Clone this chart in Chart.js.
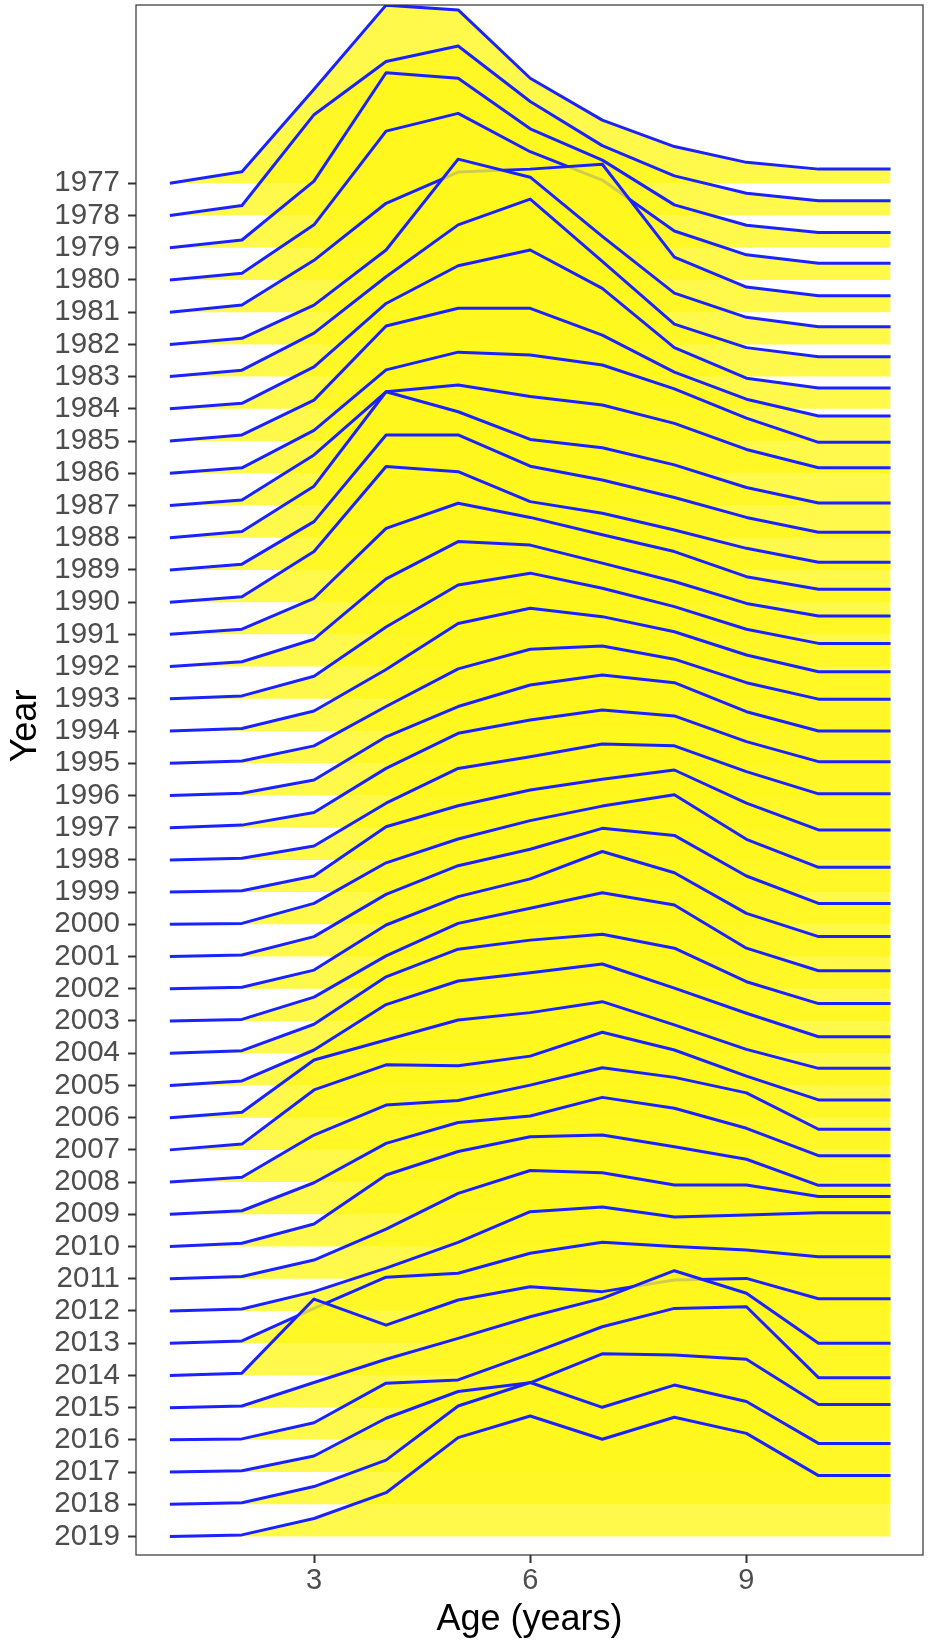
<!DOCTYPE html>
<html>
<head>
<meta charset="utf-8">
<script src="https://cdn.jsdelivr.net/npm/chart.js@4.4.1/dist/chart.umd.min.js"></script>
<style>
  html, body { margin: 0; padding: 0; background: #ffffff; }
  #wrap { width: 931px; height: 1650px; position: relative; }
</style>
</head>
<body>
<div id="wrap"><canvas id="chart"></canvas></div>
<script>
var AGES = [1, 2, 3, 4, 5, 6, 7, 8, 9, 10, 11];
var X_TICKS = [3, 6, 9];
var YEARS = [];
for (var yr = 1977; yr <= 2019; yr++) YEARS.push(yr);

// ridge heights by age, one array per year (1 = one row of the y axis)
var h1977 = [0, 0.36, 2.92, 5.53, 5.38, 3.26, 1.96, 1.14, 0.65, 0.44, 0.44];
var h1978 = [0, 0.31, 3.13, 4.78, 5.26, 3.54, 2.17, 1.23, 0.69, 0.46, 0.46];
var h1979 = [0, 0.24, 2.07, 5.43, 5.26, 3.69, 2.72, 1.33, 0.70, 0.47, 0.47];
var h1980 = [0, 0.21, 1.71, 4.62, 5.17, 3.98, 3.10, 1.52, 0.78, 0.52, 0.52];
var h1981 = [0, 0.22, 1.61, 3.38, 4.35, 4.44, 4.59, 1.71, 0.78, 0.51, 0.51];
var h1982 = [0, 0.19, 1.22, 2.93, 5.75, 5.19, 3.35, 1.59, 0.84, 0.55, 0.55];
var h1983 = [0, 0.20, 1.35, 3.10, 4.71, 5.51, 3.58, 1.63, 0.90, 0.62, 0.62];
var h1984 = [0, 0.17, 1.30, 3.27, 4.44, 4.93, 3.74, 1.90, 0.95, 0.65, 0.65];
var h1985 = [0, 0.19, 1.27, 3.57, 4.12, 4.12, 3.29, 2.14, 1.30, 0.78, 0.78];
var h1986 = [0, 0.17, 1.33, 3.21, 3.76, 3.67, 3.36, 2.62, 1.71, 0.96, 0.96];
var h1987 = [0, 0.17, 1.57, 3.53, 3.74, 3.38, 3.12, 2.55, 1.74, 1.17, 1.17];
var h1988 = [0, 0.19, 1.60, 4.53, 3.91, 3.05, 2.79, 2.26, 1.56, 1.08, 1.08];
var h1989 = [0, 0.18, 1.50, 4.19, 4.19, 3.22, 2.79, 2.25, 1.63, 1.17, 1.17];
var h1990 = [0, 0.17, 1.57, 4.21, 4.05, 3.12, 2.76, 2.24, 1.67, 1.24, 1.24];
var h1991 = [0, 0.16, 1.12, 3.29, 4.07, 3.63, 3.09, 2.57, 1.79, 1.40, 1.40];
var h1992 = [0, 0.15, 0.85, 2.72, 3.88, 3.77, 3.21, 2.64, 1.96, 1.57, 1.57];
var h1993 = [0, 0.09, 0.70, 2.23, 3.53, 3.90, 3.43, 2.86, 2.16, 1.72, 1.72];
var h1994 = [0, 0.08, 0.62, 1.91, 3.34, 3.81, 3.55, 3.08, 2.36, 1.84, 1.84];
var h1995 = [0, 0.07, 0.54, 1.76, 2.93, 3.54, 3.64, 3.23, 2.50, 1.99, 1.99];
var h1996 = [0, 0.07, 0.48, 1.82, 2.76, 3.43, 3.74, 3.50, 2.60, 2.00, 2.00];
var h1997 = [0, 0.08, 0.47, 1.84, 2.93, 3.34, 3.65, 3.47, 2.67, 2.05, 2.05];
var h1998 = [0, 0.05, 0.43, 1.76, 2.84, 3.20, 3.60, 3.54, 2.74, 2.05, 2.05];
var h1999 = [0, 0.04, 0.50, 2.03, 2.68, 3.17, 3.50, 3.79, 2.76, 1.93, 1.93];
var h2000 = [0, 0.03, 0.65, 1.91, 2.65, 3.22, 3.67, 4.02, 2.64, 1.77, 1.77];
var h2001 = [0, 0.05, 0.62, 1.93, 2.82, 3.33, 3.98, 3.76, 2.50, 1.65, 1.65];
var h2002 = [0, 0.05, 0.58, 1.98, 2.86, 3.41, 4.26, 3.60, 2.34, 1.62, 1.62];
var h2003 = [0, 0.05, 0.74, 2.02, 3.03, 3.50, 3.98, 3.60, 2.26, 1.56, 1.56];
var h2004 = [0, 0.08, 0.90, 2.37, 3.23, 3.51, 3.69, 3.26, 2.22, 1.54, 1.54];
var h2005 = [0, 0.14, 1.10, 2.51, 3.24, 3.50, 3.77, 3.02, 2.24, 1.51, 1.51];
var h2006 = [0, 0.17, 1.79, 2.41, 3.03, 3.26, 3.60, 2.88, 2.12, 1.53, 1.53];
var h2007 = [0, 0.18, 1.86, 2.64, 2.61, 2.91, 3.65, 3.10, 2.29, 1.55, 1.55];
var h2008 = [0, 0.15, 1.46, 2.39, 2.53, 3.01, 3.55, 3.25, 2.77, 1.64, 1.64];
var h2009 = [0, 0.11, 0.98, 2.20, 2.85, 3.05, 3.63, 3.29, 2.67, 1.82, 1.82];
var h2010 = [0, 0.10, 0.70, 2.22, 2.95, 3.41, 3.46, 3.10, 2.71, 1.90, 1.90];
var h2011 = [0, 0.07, 0.58, 1.54, 2.65, 3.36, 3.29, 2.91, 2.91, 2.55, 2.55];
var h2012 = [0, 0.06, 0.60, 1.33, 2.13, 3.08, 3.23, 2.92, 2.98, 3.05, 3.05];
var h2013 = [0, 0.07, 1.08, 2.05, 2.17, 2.79, 3.13, 3.00, 2.89, 2.68, 2.68];
var h2014 = [0, 0.07, 2.37, 1.56, 2.34, 2.75, 2.60, 2.96, 3.01, 2.38, 2.38];
var h2015 = [0, 0.05, 0.78, 1.50, 2.15, 2.82, 3.39, 4.25, 3.55, 2.00, 2.00];
var h2016 = [0, 0.03, 0.53, 1.76, 1.86, 2.67, 3.51, 4.08, 4.13, 1.93, 1.93];
var h2017 = [0, 0.04, 0.50, 1.67, 2.50, 2.77, 3.67, 3.63, 3.50, 2.10, 2.10];
var h2018 = [0, 0.05, 0.55, 1.37, 3.05, 3.78, 3.01, 3.70, 3.19, 1.89, 1.89];
var h2019 = [0, 0.05, 0.56, 1.36, 3.07, 3.74, 3.02, 3.70, 3.20, 1.89, 1.89];

var HEIGHTS = [h1977, h1978, h1979, h1980, h1981, h1982, h1983, h1984, h1985,
  h1986, h1987, h1988, h1989, h1990, h1991, h1992, h1993, h1994, h1995, h1996,
  h1997, h1998, h1999, h2000, h2001, h2002, h2003, h2004, h2005, h2006, h2007,
  h2008, h2009, h2010, h2011, h2012, h2013, h2014, h2015, h2016, h2017, h2018,
  h2019];

var FONT = '"Liberation Sans", Arial, Helvetica, sans-serif';

// each ridge sits on its year and rises towards the top (y axis is reversed)
var datasets = YEARS.map(function(year, i) {
  return {
    label: String(year),
    data: AGES.map(function(age, j) {
      return { x: age, y: year - HEIGHTS[i][j] };
    }),
    borderColor: '#1a22ff',
    borderWidth: 3,
    borderJoinStyle: 'round',
    backgroundColor: 'rgba(255, 248, 30, 0.8)',
    fill: { value: year },
    pointRadius: 0,
    tension: 0,
    // later years are drawn over earlier ones
    order: 2019 - year
  };
});

var panelBorder = {
  id: 'panelBorder',
  afterDatasetsDraw: function(chart) {
    var a = chart.chartArea;
    var ctx = chart.ctx;
    ctx.save();
    ctx.strokeStyle = '#333333';
    ctx.lineWidth = 1.2;
    ctx.strokeRect(a.left, a.top, a.right - a.left, a.bottom - a.top);
    ctx.restore();
  }
};

// y title sits a bit above the panel centre in the original
var yTitle = {
  id: 'yTitle',
  afterDraw: function(chart) {
    var ctx = chart.ctx;
    ctx.save();
    ctx.translate(26, 726);
    ctx.rotate(-Math.PI / 2);
    ctx.fillStyle = '#000000';
    ctx.font = '36px ' + FONT;
    ctx.textAlign = 'center';
    ctx.textBaseline = 'middle';
    ctx.fillText('Year', 0, 0);
    ctx.restore();
  }
};

new Chart(document.getElementById('chart'), {
  type: 'line',
  data: { datasets: datasets },
  plugins: [panelBorder, yTitle],
  options: {
    responsive: true,
    maintainAspectRatio: false,
    animation: false,
    layout: { padding: { top: 5, right: 8, left: 0, bottom: 0 } },
    plugins: {
      legend: { display: false },
      tooltip: { enabled: false }
    },
    scales: {
      x: {
        type: 'linear',
        min: 0.53,
        max: 11.45,
        afterBuildTicks: function(axis) {
          axis.ticks = X_TICKS.map(function(v) { return { value: v }; });
        },
        afterFit: function(axis) {
          axis.height = 95;
          axis.paddingLeft = 0;
          axis.paddingRight = 0;
        },
        grid: { drawOnChartArea: false, drawTicks: true, tickLength: 8, tickColor: '#333333', tickWidth: 2 },
        border: { display: false },
        ticks: { color: '#4d4d4d', font: { family: FONT, size: 29 }, padding: 1, maxRotation: 0 },
        title: { display: true, text: 'Age (years)', color: '#000000', font: { family: FONT, size: 36 }, padding: { top: 0, bottom: 8 } }
      },
      y: {
        type: 'linear',
        reverse: true,
        min: 1971.466,
        max: 2019.574,
        afterBuildTicks: function(axis) {
          axis.ticks = YEARS.map(function(v) { return { value: v }; });
        },
        afterFit: function(axis) {
          axis.width = 136;
          axis.paddingTop = 0;
          axis.paddingBottom = 0;
        },
        grid: { drawOnChartArea: false, drawTicks: true, tickLength: 8, tickColor: '#333333', tickWidth: 2 },
        border: { display: false },
        ticks: {
          autoSkip: false,
          color: '#4d4d4d',
          font: { family: FONT, size: 29.5 },
          padding: 8,
          callback: function(v) { return String(v); }
        },
        title: { display: false }
      }
    }
  }
});
</script>
</body>
</html>
